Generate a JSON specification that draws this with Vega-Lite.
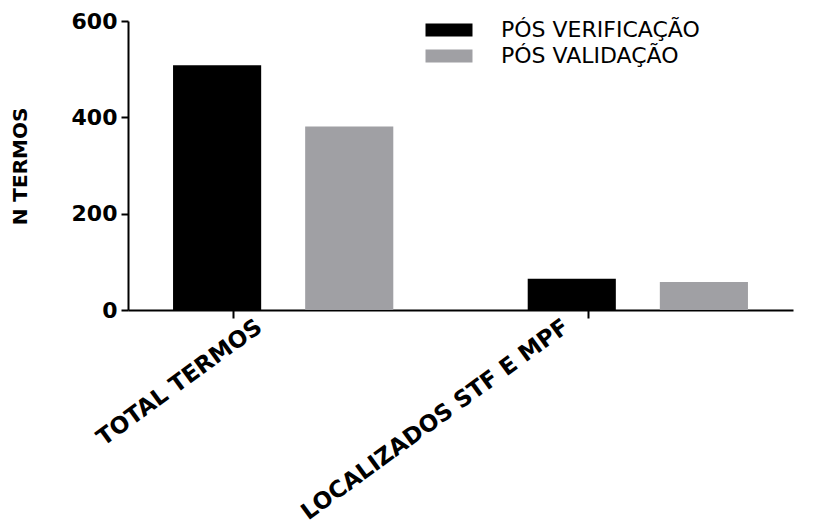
{
  "$schema": "https://vega.github.io/schema/vega-lite/v6.json",
  "width": 665,
  "height": 289,
  "autosize": {"type": "none"},
  "padding": {"left": 128, "top": 21, "right": 39, "bottom": 221},
  "background": "white",
  "config": {
    "view": {"stroke": null},
    "axis": {"grid": false, "domainColor": "black", "domainWidth": 2, "tickColor": "black", "tickWidth": 2, "labelColor": "black", "titleColor": "black", "labelFont": "DejaVu Sans", "titleFont": "DejaVu Sans"}
  },
  "data": {
    "values": [
      {"categoria": "TOTAL TERMOS", "serie": "PÓS VERIFICAÇÃO", "valor": 508},
      {"categoria": "TOTAL TERMOS", "serie": "PÓS VALIDAÇÃO", "valor": 381},
      {"categoria": "LOCALIZADOS STF E MPF", "serie": "PÓS VERIFICAÇÃO", "valor": 65},
      {"categoria": "LOCALIZADOS STF E MPF", "serie": "PÓS VALIDAÇÃO", "valor": 58}
    ]
  },
  "mark": {"type": "bar"},
  "encoding": {
    "x": {
      "field": "categoria",
      "type": "nominal",
      "sort": ["TOTAL TERMOS", "LOCALIZADOS STF E MPF"],
      "scale": {"paddingInner": 0.379, "paddingOuter": 0.127},
      "axis": {
        "title": null,
        "labelAngle": -36,
        "labelAlign": "right",
        "labelBaseline": "middle",
        "labelFontSize": 23,
        "labelFontWeight": "bold",
        "tickSize": 8,
        "tickOffset": -50,
        "labelPadding": 6,
        "labelLimit": 500,
        "labelOffset": {"condition": {"test": "datum.value === 'TOTAL TERMOS'", "value": 26}, "value": -22}
      }
    },
    "xOffset": {
      "field": "serie",
      "type": "nominal",
      "sort": ["PÓS VERIFICAÇÃO", "PÓS VALIDAÇÃO"],
      "scale": {"paddingInner": 0.333, "paddingOuter": 0}
    },
    "y": {
      "field": "valor",
      "type": "quantitative",
      "scale": {"domain": [0, 600], "nice": false},
      "axis": {
        "title": "N TERMOS",
        "values": [0, 200, 400, 600],
        "labelFontSize": 22,
        "labelFontWeight": "bold",
        "tickSize": 7,
        "labelPadding": 4,
        "titleFontSize": 20,
        "titleFontWeight": "bold",
        "titleX": -98,
        "titleY": 145
      }
    },
    "color": {
      "field": "serie",
      "type": "nominal",
      "sort": ["PÓS VERIFICAÇÃO", "PÓS VALIDAÇÃO"],
      "scale": {"domain": ["PÓS VERIFICAÇÃO", "PÓS VALIDAÇÃO"], "range": ["#000000", "#a0a0a4"]},
      "legend": {
        "title": null,
        "orient": "none",
        "legendX": 309,
        "legendY": -3,
        "symbolType": "M-2,-0.56H2V0.56H-2Z",
        "symbolSize": 552,
        "symbolStrokeWidth": 0,
        "labelFontSize": 22,
        "labelFont": "DejaVu Sans",
        "labelColor": "black",
        "labelOffset": 40,
        "rowPadding": 3,
        "labelLimit": 500
      }
    }
  }
}
